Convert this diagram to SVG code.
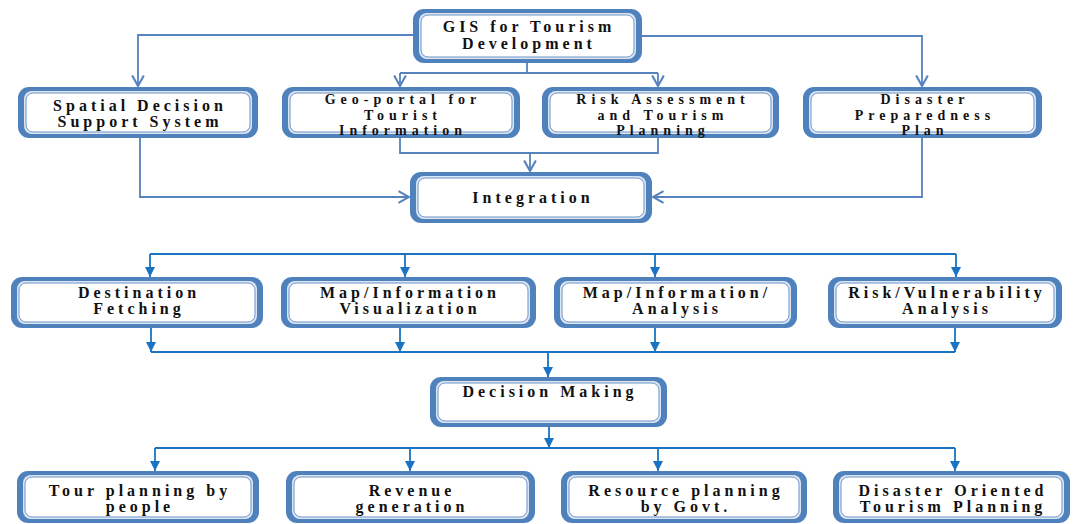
<svg xmlns="http://www.w3.org/2000/svg" width="1078" height="524" viewBox="0 0 1078 524">
<style>
.b1{fill:#4F81BD;}
.b2{fill:#DCE6F2;}
.b3{fill:#FFFFFF;stroke:#6C93C8;stroke-width:1;}
.t{font-family:"Liberation Serif","Times New Roman",serif;font-weight:bold;font-size:16px;letter-spacing:4px;fill:#111;text-anchor:middle;}
.t3{font-size:14px;letter-spacing:5px;}
.c1{fill:none;stroke:#5682BE;stroke-width:1.8;}
.c2{fill:none;stroke:#1A73C2;stroke-width:1.8;}
</style>
<defs>
<marker id="open" markerUnits="userSpaceOnUse" markerWidth="14" markerHeight="14" refX="10" refY="6" orient="auto" viewBox="0 0 12 12">
<path d="M1,1 L10,6 L1,11" fill="none" stroke="#5682BE" stroke-width="1.8"/>
</marker>
<marker id="tri" markerUnits="userSpaceOnUse" markerWidth="10" markerHeight="10" refX="8" refY="4" orient="auto" viewBox="0 0 8 8">
<path d="M0,0 L8,4 L0,8 Z" fill="#1A73C2"/>
</marker>
</defs>

<g id="connectors">
<path class="c1" d="M413,35 H138 V86" marker-end="url(#open)"/>
<path class="c1" d="M642,36 H922 V86" marker-end="url(#open)"/>
<path class="c1" d="M527,63 V73"/>
<path class="c1" d="M400,73 H658"/>
<path class="c1" d="M400,73 V86" marker-end="url(#open)"/>
<path class="c1" d="M658,73 V86" marker-end="url(#open)"/>
<path class="c1" d="M400,135 V153 H658 V135"/>
<path class="c1" d="M530,153 V171" marker-end="url(#open)"/>
<path class="c1" d="M140,138 V197 H409" marker-end="url(#open)"/>
<path class="c1" d="M922,138 V197 H653" marker-end="url(#open)"/>

<path class="c2" d="M150,254 H956"/>
<path class="c2" d="M150,254 V277" marker-end="url(#tri)"/>
<path class="c2" d="M405,254 V277" marker-end="url(#tri)"/>
<path class="c2" d="M655,254 V277" marker-end="url(#tri)"/>
<path class="c2" d="M956,254 V277" marker-end="url(#tri)"/>

<path class="c2" d="M151,352 H955"/>
<path class="c2" d="M151,328 V352" marker-end="url(#tri)"/>
<path class="c2" d="M400,328 V352" marker-end="url(#tri)"/>
<path class="c2" d="M655,328 V352" marker-end="url(#tri)"/>
<path class="c2" d="M955,328 V352" marker-end="url(#tri)"/>
<path class="c2" d="M548,352 V377" marker-end="url(#tri)"/>

<path class="c2" d="M155,448 H955"/>
<path class="c2" d="M549,427 V448" marker-end="url(#tri)"/>
<path class="c2" d="M155,448 V471" marker-end="url(#tri)"/>
<path class="c2" d="M410,448 V471" marker-end="url(#tri)"/>
<path class="c2" d="M658,448 V471" marker-end="url(#tri)"/>
<path class="c2" d="M955,448 V471" marker-end="url(#tri)"/>
</g>

<g id="n-gis">
<rect class="b1" x="413" y="9" width="229" height="54" rx="11"/>
<rect class="b2" x="419" y="13" width="217" height="46" rx="8"/>
<rect class="b3" x="421" y="15" width="213" height="42" rx="7"/>
<text class="t" x="529" y="32">GIS for Tourism</text>
<text class="t" x="529" y="49">Development</text>
</g>

<g id="n-sdss">
<rect class="b1" x="18" y="87" width="240" height="51" rx="11"/>
<rect class="b2" x="24" y="91" width="228" height="43" rx="8"/>
<rect class="b3" x="26" y="93" width="224" height="39" rx="7"/>
<text class="t" x="140" y="111">Spatial Decision</text>
<text class="t" x="140" y="127">Support System</text>
</g>

<g id="n-geo">
<rect class="b1" x="282" y="87" width="238" height="51" rx="11"/>
<rect class="b2" x="288" y="91" width="226" height="43" rx="8"/>
<rect class="b3" x="290" y="93" width="222" height="39" rx="7"/>
<text class="t t3" x="403" y="104">Geo-portal for</text>
<text class="t t3" x="403" y="119.5">Tourist</text>
<text class="t t3" x="403" y="135">Information</text>
</g>

<g id="n-risk">
<rect class="b1" x="542" y="87" width="237" height="51" rx="11"/>
<rect class="b2" x="548" y="91" width="225" height="43" rx="8"/>
<rect class="b3" x="550" y="93" width="221" height="39" rx="7"/>
<text class="t t3" x="663" y="104">Risk Assessment</text>
<text class="t t3" x="663" y="119.5">and Tourism</text>
<text class="t t3" x="663" y="135">Planning</text>
</g>

<g id="n-dpp">
<rect class="b1" x="803" y="87" width="239" height="51" rx="11"/>
<rect class="b2" x="809" y="91" width="227" height="43" rx="8"/>
<rect class="b3" x="811" y="93" width="223" height="39" rx="7"/>
<text class="t t3" x="925" y="104">Disaster</text>
<text class="t t3" x="925" y="119.5">Preparedness</text>
<text class="t t3" x="925" y="135">Plan</text>
</g>

<g id="n-int">
<rect class="b1" x="410" y="172" width="242" height="51" rx="11"/>
<rect class="b2" x="416" y="176" width="230" height="43" rx="8"/>
<rect class="b3" x="418" y="178" width="226" height="39" rx="7"/>
<text class="t" x="533" y="203">Integration</text>
</g>

<g id="n-dest">
<rect class="b1" x="11" y="277" width="252" height="51" rx="11"/>
<rect class="b2" x="17" y="281" width="240" height="43" rx="8"/>
<rect class="b3" x="19" y="283" width="236" height="39" rx="7"/>
<text class="t" x="139" y="298">Destination</text>
<text class="t" x="139" y="314">Fetching</text>
</g>

<g id="n-mapvis">
<rect class="b1" x="281" y="277" width="255" height="51" rx="11"/>
<rect class="b2" x="287" y="281" width="243" height="43" rx="8"/>
<rect class="b3" x="289" y="283" width="239" height="39" rx="7"/>
<text class="t" x="410" y="298">Map/Information</text>
<text class="t" x="410" y="314">Visualization</text>
</g>

<g id="n-mapana">
<rect class="b1" x="554" y="277" width="243" height="51" rx="11"/>
<rect class="b2" x="560" y="281" width="231" height="43" rx="8"/>
<rect class="b3" x="562" y="283" width="227" height="39" rx="7"/>
<text class="t" x="677" y="298">Map/Information/</text>
<text class="t" x="677" y="314">Analysis</text>
</g>

<g id="n-riskvul">
<rect class="b1" x="828" y="277" width="234" height="51" rx="11"/>
<rect class="b2" x="834" y="281" width="222" height="43" rx="8"/>
<rect class="b3" x="836" y="283" width="218" height="39" rx="7"/>
<text class="t" x="947" y="298">Risk/Vulnerability</text>
<text class="t" x="947" y="314">Analysis</text>
</g>

<g id="n-dec">
<rect class="b1" x="430" y="377" width="237" height="50" rx="11"/>
<rect class="b2" x="436" y="381" width="225" height="42" rx="8"/>
<rect class="b3" x="438" y="383" width="221" height="38" rx="7"/>
<text class="t" x="550" y="397">Decision Making</text>
</g>

<g id="n-tour">
<rect class="b1" x="17" y="471" width="242" height="52" rx="11"/>
<rect class="b2" x="23" y="475" width="230" height="44" rx="8"/>
<rect class="b3" x="25" y="477" width="226" height="40" rx="7"/>
<text class="t" x="140" y="496">Tour planning by</text>
<text class="t" x="140" y="512">people</text>
</g>

<g id="n-rev">
<rect class="b1" x="286" y="471" width="249" height="52" rx="11"/>
<rect class="b2" x="292" y="475" width="237" height="44" rx="8"/>
<rect class="b3" x="294" y="477" width="233" height="40" rx="7"/>
<text class="t" x="412" y="496">Revenue</text>
<text class="t" x="412" y="512">generation</text>
</g>

<g id="n-res">
<rect class="b1" x="561" y="471" width="246" height="52" rx="11"/>
<rect class="b2" x="567" y="475" width="234" height="44" rx="8"/>
<rect class="b3" x="569" y="477" width="230" height="40" rx="7"/>
<text class="t" x="686" y="496">Resource planning</text>
<text class="t" x="686" y="512">by Govt.</text>
</g>

<g id="n-dotp">
<rect class="b1" x="833" y="471" width="237" height="52" rx="11"/>
<rect class="b2" x="839" y="475" width="225" height="44" rx="8"/>
<rect class="b3" x="841" y="477" width="221" height="40" rx="7"/>
<text class="t" x="953" y="496">Disaster Oriented</text>
<text class="t" x="953" y="512">Tourism Planning</text>
</g>
</svg>
